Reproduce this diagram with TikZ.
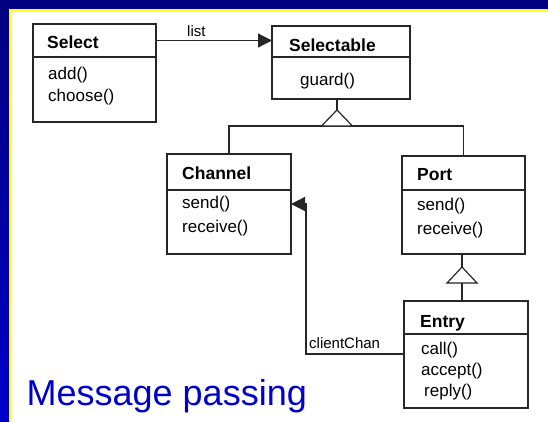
\documentclass[tikz,border=0pt]{standalone}
\usepackage{fontspec}
\setmainfont{Liberation Sans}
\usetikzlibrary{positioning,arrows.meta}
\definecolor{navyband}{RGB}{0,0,128}
\definecolor{sideblue}{RGB}{0,0,200}
\definecolor{titleblue}{RGB}{0,0,204}
\definecolor{edgeyellow}{RGB}{255,255,0}
\tikzset{
  box/.style={draw=black!85, line width=1.2pt, outer sep=0pt, inner sep=0pt, fill=white},
  cname/.style={anchor=base west, inner sep=0pt, font=\bfseries\fontsize{17.5}{21}\selectfont},
  ops/.style={anchor=base west, inner sep=0pt, align=left, font=\fontsize{17}{22}\selectfont},
  lbl/.style={anchor=base west, inner sep=0pt, font=\fontsize{15}{18}\selectfont},
  link/.style={draw=black!85, line width=1.2pt},
  assoc/.style={link, -{Triangle[length=14pt,width=14pt]}},
  gen/.style={link, fill=white},
}
\begin{document}
\begin{tikzpicture}[x=1pt, y=-1pt]
  \useasboundingbox (0,0) rectangle (548,421);
  % slide frame
  \fill[white] (0,0) rectangle (548,421);
  \fill[navyband] (0,0) rectangle (548,9);
  \shade[top color=navyband, bottom color=sideblue] (0,9) rectangle (9,421);
  \fill[edgeyellow] (9,9) rectangle (548,11);
  \fill[edgeyellow] (9,9) rectangle (11,421);
  % Select
  \node[box, minimum width=123pt, minimum height=33pt, anchor=north west] (selecthead) at (33,24) {};
  \node[box, minimum width=123pt, minimum height=65pt, below=0pt of selecthead] (selectbody) {};
  \node[cname] (selectname) at (47,48) {Select};
  \node[ops] (selectops) at (48,101) {add()\\choose()};
  % Selectable
  \node[box, minimum width=138pt, minimum height=31pt, anchor=north west] (selectablehead) at (272,26) {};
  \node[box, minimum width=138pt, minimum height=42pt, below=0pt of selectablehead] (selectablebody) {};
  \node[cname] (selectablename) at (289,51) {Selectable};
  \node[ops] (selectableops) at (300,85) {guard()};
  % Channel
  \node[box, minimum width=124pt, minimum height=36pt, anchor=north west] (channelhead) at (167,154) {};
  \node[box, minimum width=124pt, minimum height=64pt, below=0pt of channelhead] (channelbody) {};
  \node[cname] (channelname) at (182,179) {Channel};
  \node[ops] (channelops) at (182,232) {send()\\[2pt]receive()};
  % Port
  \node[box, minimum width=123pt, minimum height=34pt, anchor=north west] (porthead) at (402,156) {};
  \node[box, minimum width=123pt, minimum height=64pt, below=0pt of porthead] (portbody) {};
  \node[cname] (portname) at (417,180) {Port};
  \node[ops] (portops) at (417,234) {send()\\[2pt]receive()};
  % Entry
  \node[box, minimum width=124pt, minimum height=33pt, anchor=north west] (entryhead) at (404,301) {};
  \node[box, minimum width=124pt, minimum height=74pt, below=0pt of entryhead] (entrybody) {};
  \node[cname] (entryname) at (420,327) {Entry};
  \node[ops] (entryops) at (421,396) {call()\\[-1pt]accept()\\[-1pt]\hspace{3pt}reply()};
  % list
  \draw[assoc] (selecthead.east) -- (selecthead.east -| selectablehead.west);
  \node[lbl] (listlabel) at (187,36) {list};
  % generalisation to Selectable
  \coordinate (selapex) at (337,110);
  \coordinate (selbar) at (337,126);
  \draw[link] (selectablebody.south -| selapex) -- (selapex);
  \draw[link] (channelhead.north) |- (selbar) -| (porthead.north);
  \draw[gen] (selapex) -- ++(-15.5,16) -- ++(31,0) -- cycle;
  % generalisation to Port
  \coordinate (portapex) at (462,267);
  \coordinate (portbar) at (462,283);
  \draw[link] (portbody.south -| portapex) -- (portapex);
  \draw[link] (entryhead.north -| portbar) -- (portbar);
  \draw[gen] (portapex) -- ++(-15,16) -- ++(30,0) -- cycle;
  % clientChan
  \coordinate (chanlow) at (306,354);
  \coordinate (chanhigh) at (306,204);
  \draw[assoc] (entrybody.west |- chanlow) -- (chanlow) -- (chanhigh) -- (channelbody.east |- chanhigh);
  \node[lbl] (chanlabel) at (309,348) {clientChan};
  % title
  \node[anchor=base west, inner sep=0pt, text=titleblue, font=\fontsize{36}{40}\selectfont] (heading) at (26.5,405) {Message passing};
\end{tikzpicture}
\end{document}
